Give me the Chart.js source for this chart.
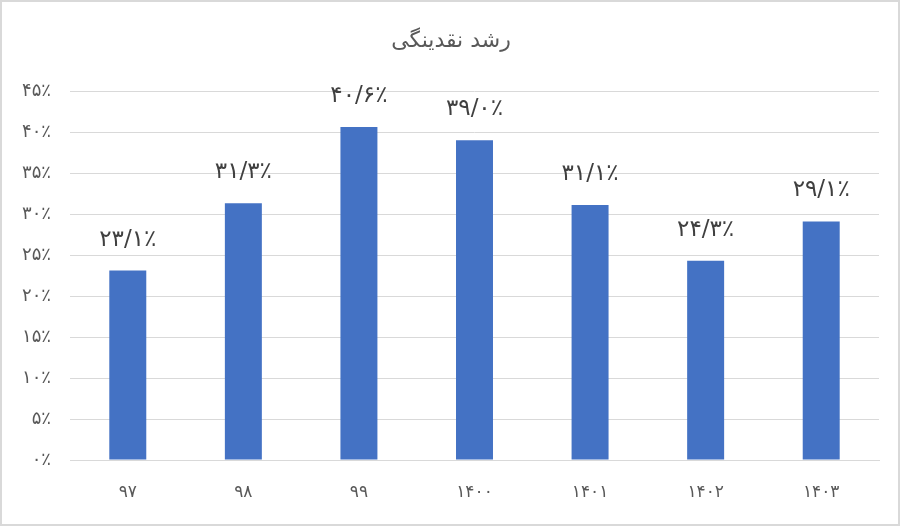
<!DOCTYPE html>
<html>
<head>
<meta charset="utf-8">
<script src="https://cdn.jsdelivr.net/npm/chart.js@4.4.0/dist/chart.umd.min.js"></script>
<style>
html,body{margin:0;padding:0;background:#fff;}
#wrap{width:902px;height:527px;position:relative;}
</style>
</head>
<body>
<div id="wrap"><canvas id="c" width="902" height="527"></canvas></div>
<script>
const titleText = 'رشد نقدینگی';
const categories = ['۹۷', '۹۸', '۹۹', '۱۴۰۰', '۱۴۰۱', '۱۴۰۲', '۱۴۰۳'];
const growthValues = [23.1, 31.3, 40.6, 39.0, 31.1, 24.3, 29.1];
const yTickValues = [0, 5, 10, 15, 20, 25, 30, 35, 40, 45];
const yTickLabels = ['۰٪', '۵٪', '۱۰٪', '۱۵٪', '۲۰٪', '۲۵٪', '۳۰٪', '۳۵٪', '۴۰٪', '۴۵٪'];

const faDigits = '۰۱۲۳۴۵۶۷۸۹';
function toFa(s){ return String(s).replace(/[0-9]/g, d => faDigits[+d]); }
function fmtLabel(v){ return toFa(v.toFixed(1)).replace('.', '/') + '٪'; }

const FONT = "'DejaVu Sans', sans-serif";

const decor = {
  id: 'decor',
  afterDraw(chart){
    const ctx = chart.ctx;
    ctx.save();
    ctx.strokeStyle = '#d9d9d9';
    ctx.lineWidth = 2;
    ctx.strokeRect(1, 1, 898, 524);
    ctx.fillStyle = '#595959';
    ctx.font = '22px ' + FONT;
    ctx.textAlign = 'center';
    ctx.textBaseline = 'middle';
    ctx.fillText(titleText, 451, 41);
    const meta = chart.getDatasetMeta(0);
    ctx.fillStyle = '#404040';
    ctx.font = '23px ' + FONT;
    meta.data.forEach((bar, i) => {
      ctx.fillText(fmtLabel(growthValues[i]), bar.x, bar.y - 31);
    });
    ctx.restore();
  }
};

new Chart(document.getElementById('c'), {
  type: 'bar',
  data: {
    labels: categories,
    datasets: [{
      data: growthValues,
      backgroundColor: '#4472c4',
      borderWidth: 0,
      barPercentage: 0.32,
      categoryPercentage: 1.0
    }]
  },
  options: {
    responsive: false,
    animation: false,
    devicePixelRatio: 1,
    layout: { padding: { left: 0, right: 23, top: 91, bottom: 0 } },
    plugins: { legend: { display: false }, title: { display: false }, tooltip: { enabled: false } },
    scales: {
      x: {
        grid: { display: false, drawTicks: false },
        border: { display: true, color: '#d9d9d9', width: 1 },
        ticks: { color: '#595959', font: { family: FONT, size: 17 }, padding: 22, maxRotation: 0 },
        afterFit(s){ s.height = 67; }
      },
      y: {
        min: 0, max: 45,
        afterBuildTicks(s){ s.ticks = yTickValues.map(v => ({ value: v })); },
        grid: { color: '#d9d9d9', lineWidth: 1, drawTicks: false },
        border: { display: false },
        ticks: {
          color: '#595959', font: { family: FONT, size: 18 }, padding: 19,
          callback(v){ const i = yTickValues.indexOf(v); return i >= 0 ? yTickLabels[i] : ''; }
        },
        afterFit(s){ s.width = 70; }
      }
    }
  },
  plugins: [decor]
});
</script>
</body>
</html>
